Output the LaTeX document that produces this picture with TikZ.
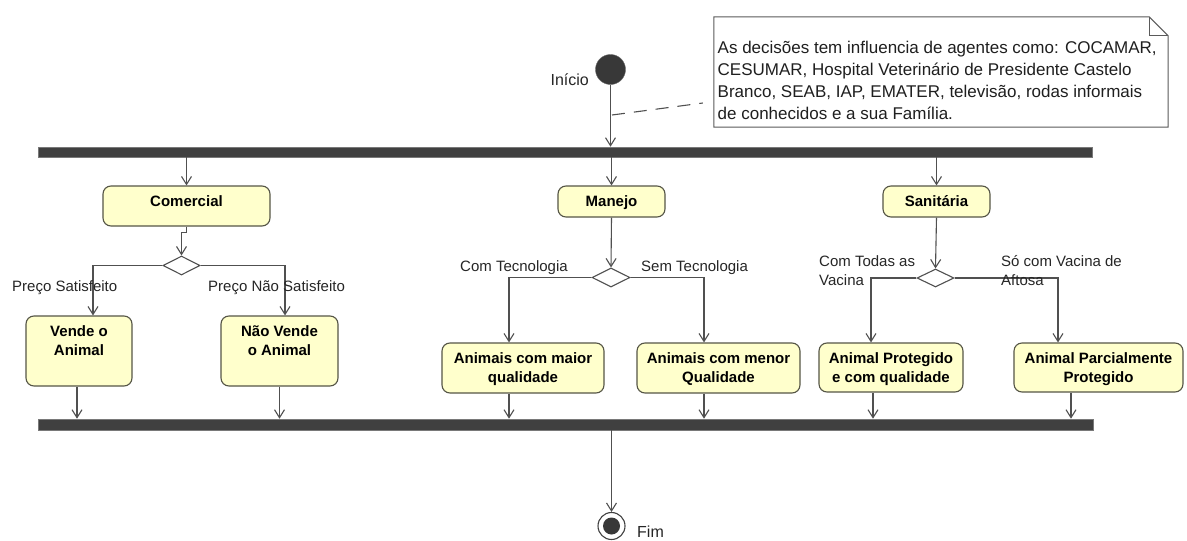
\documentclass[tikz,border=0pt]{standalone}
\usepackage{fontspec}
\setmainfont{Liberation Sans}
\usetikzlibrary{arrows.meta,shapes.geometric}
\definecolor{actfill}{RGB}{255,255,204}
\definecolor{actdraw}{RGB}{85,85,70}
\definecolor{barcol}{RGB}{64,64,64}
\definecolor{flowcol}{RGB}{80,80,80}
\definecolor{notedraw}{RGB}{90,90,90}
\begin{document}
\begin{tikzpicture}[x=1pt,y=-1pt,
  act/.style={draw=actdraw, fill=actfill, rounded corners=8pt, line width=1.1pt, inner sep=0pt},
  acttext/.style={font=\bfseries\fontsize{15}{19}\selectfont, align=center, inner sep=0pt, anchor=north, yshift=-9.5pt},
  decision/.style={diamond, draw=flowcol, fill=white, line width=1.1pt, inner sep=0pt},
  syncbar/.style={rectangle, fill=barcol, draw=barcol!70, line width=0.6pt, inner sep=0pt},
  flow/.style={draw=flowcol, line width=1.1pt, -{Straight Barb[length=8pt,width=10pt,line width=1.1pt]}},
  guard/.style={font=\fontsize{15}{19}\selectfont, align=left, inner sep=0pt, text=black!85},
  plain/.style={font=\fontsize{16}{19}\selectfont, inner sep=0pt, text=black!85}
]
% canvas
\path[use as bounding box, fill=white] (0,0) rectangle (1187,541);

% start / end
\node[circle, fill=black!78, draw=black!60, minimum size=30pt, inner sep=0pt] (start) at (610.5,69.5) {};
\node[plain, anchor=east] (startlbl) at (589,80) {Início};
\node[circle, draw=black!75, fill=white, line width=1.1pt, minimum size=27pt, inner sep=0pt] (final) at (611.5,526) {};
\node[circle, fill=black!78, minimum size=17pt, inner sep=0pt] (finalin) at (final) {};
\node[plain, anchor=west] (finallbl) at (637,532) {Fim};

% note with folded corner
\node[minimum width=454pt, minimum height=110pt, inner sep=0pt] (note) at (941,72) {};
\draw[draw=notedraw, fill=white, line width=1pt]
  (note.north west) -- ([xshift=-19pt]note.north east) -- ([yshift=-19pt]note.north east)
  -- (note.south east) -- (note.south west) -- cycle;
\draw[draw=notedraw, line width=0.8pt]
  ([xshift=-19pt]note.north east) -- ([xshift=-19pt,yshift=-19pt]note.north east) -- ([yshift=-19pt]note.north east);
\node[font=\fontsize{17}{22}\selectfont, align=left, anchor=north west, inner sep=0pt, text=black!88] (notetext) at (717.5,41)
  {As decisões tem influencia de agentes como: COCAMAR,\\
   CESUMAR, Hospital Veterinário de Presidente Castelo\\
   Branco, SEAB, IAP, EMATER, televisão, rodas informais\\
   de conhecidos e a sua Família.};

% fork and join bars
\node[syncbar, minimum width=1054pt, minimum height=10pt] (fork) at (565,152) {};
\node[syncbar, minimum width=1055pt, minimum height=11pt] (join) at (565.5,424.5) {};

% actions
\node[act, minimum width=167pt, minimum height=40pt] (com) at (186.5,206) {};
\node[acttext] at (com.north) {Comercial};
\node[act, minimum width=106pt, minimum height=70pt] (vende) at (79,351) {};
\node[acttext] at (vende.north) {Vende o\\Animal};
\node[act, minimum width=117pt, minimum height=70pt] (naovende) at (279.5,351) {};
\node[acttext] at (naovende.north) {Não Vende\\o Animal};

\node[act, minimum width=107pt, minimum height=31pt] (manejo) at (611.5,201.5) {};
\node[acttext] at (manejo.north) {Manejo};
\node[act, minimum width=162pt, minimum height=50pt] (maior) at (523,368) {};
\node[acttext] at (maior.north) {Animais com maior\\qualidade};
\node[act, minimum width=163pt, minimum height=50pt] (menor) at (718.5,368) {};
\node[acttext] at (menor.north) {Animais com menor\\Qualidade};

\node[act, minimum width=107pt, minimum height=31pt] (sanit) at (936.5,201.5) {};
\node[acttext] at (sanit.north) {Sanitária};
\node[act, minimum width=144pt, minimum height=49pt] (prot) at (891,367.5) {};
\node[acttext] at (prot.north) {Animal Protegido\\e com qualidade};
\node[act, minimum width=169pt, minimum height=49pt] (parc) at (1098.5,367.5) {};
\node[acttext] at (parc.north) {Animal Parcialmente\\Protegido};

% decisions
\node[decision, minimum width=37pt, minimum height=19pt] (d1) at (181.5,265.5) {};
\node[decision, minimum width=38pt, minimum height=19pt] (d2) at (611,277.5) {};
\node[decision, minimum width=37pt, minimum height=18pt] (d3) at (935.5,278) {};

% entry points on the actions
\coordinate (vendeIn) at ([xshift=14pt]vende.north);
\coordinate (naoIn) at ([xshift=5.5pt]naovende.north);
\coordinate (maiorIn) at ([xshift=-14pt]maior.north);
\coordinate (menorIn) at ([xshift=-14.5pt]menor.north);
\coordinate (protIn) at ([xshift=-20pt]prot.north);
\coordinate (parcIn) at ([xshift=-40.5pt]parc.north);
% exit points on the actions
\coordinate (vendeOut) at ([xshift=-2pt]vende.south);
\coordinate (naoOut) at (naovende.south);
\coordinate (maiorOut) at ([xshift=-14pt]maior.south);
\coordinate (menorOut) at ([xshift=-14.5pt]menor.south);
\coordinate (protOut) at ([xshift=-18pt]prot.south);
\coordinate (parcOut) at ([xshift=-27.5pt]parc.south);

% flows
\draw[flow] (start) -- (start |- fork.north);
\draw[flow] (fork.south -| com.north) -- (com.north);
\draw[flow] (fork.south -| manejo.north) -- (manejo.north);
\draw[flow] (fork.south -| sanit.north) -- (sanit.north);

\draw[flow] (com.south) -- ++(0,6) -| (d1.north);
\draw[flow] (d1.west) -| (vendeIn);
\draw[flow] (d1.east) -| (naoIn);
\draw[flow] (manejo.south) -- (d2.north);
\draw[flow] (d2.west) -| (maiorIn);
\draw[flow] (d2.east) -| (menorIn);
\draw[flow] (sanit.south) -- (d3.north);
\draw[flow] (d3.west) -| (protIn);
\draw[flow] (d3.east) -| (parcIn);

\foreach \o in {vendeOut,naoOut,maiorOut,menorOut,protOut,parcOut}
  \draw[flow] (\o) -- (\o |- join.north);

\draw[flow] (join.south -| final.north) -- (final.north);

% note anchor line
\coordinate (noteFoot) at (612,115);
\coordinate (noteEnd) at ([xshift=-11pt,yshift=-31pt]note.west);
\draw[draw=flowcol, line width=1.1pt, dash pattern=on 13pt off 9pt] (noteFoot) -- (noteEnd);

% guard labels
\node[guard, anchor=west] (g1) at (12,288) {Preço Satisfeito};
\node[guard, anchor=west] (g2) at (208,288) {Preço Não Satisfeito};
\node[guard, anchor=west] (g3) at (460,268) {Com Tecnologia};
\node[guard, anchor=west] (g4) at (641,268) {Sem Tecnologia};
\node[guard, anchor=west] (g5) at (819,270.5) {Com Todas as\\Vacina};
\node[guard, anchor=west] (g6) at (1001,270.5) {Só com Vacina de\\Aftosa};
\end{tikzpicture}
\end{document}
